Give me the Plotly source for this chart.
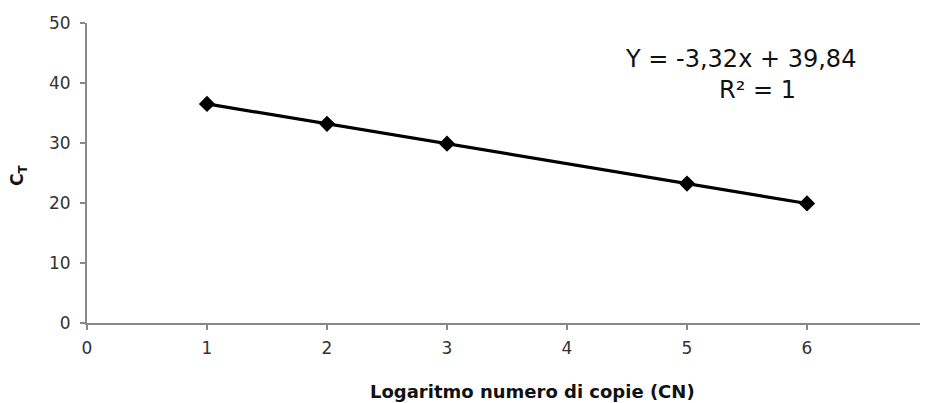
import plotly.graph_objects as go

log_cn = [1, 2, 3, 5, 6]
ct_values = [36.52, 33.2, 29.88, 23.24, 19.92]
x_ticks = [0, 1, 2, 3, 4, 5, 6, 7]
y_ticks = [0, 10, 20, 30, 40, 50]
equation_text = "Y = -3,32x + 39,84"
r2_text = "R² = 1"
x_title = "Logaritmo numero di copie (CN)"
y_title = "C<sub>T</sub>"

FONT = "DejaVu Sans"
OFF = 8  # default page body margin
W, H = 928 - OFF, 403 - OFF
L, R, T, B = 87 - OFF, 1, 23 - OFF, 80
plot_w = W - L - R
plot_h = H - T - B

fig = go.Figure()
fig.add_trace(go.Scatter(
    x=log_cn, y=ct_values, mode="lines+markers",
    line=dict(color="black", width=3.2),
    marker=dict(symbol="diamond", size=12.5, color="black"),
    showlegend=False, hoverinfo="skip", cliponaxis=False,
))

axis_common = dict(
    showgrid=False, zeroline=False, showline=True, automargin=False,
    linecolor="#898989", linewidth=2,
    ticks="outside", ticklen=5, tickcolor="#898989", tickwidth=2,
    tickfont=dict(family=FONT, size=17, color="#333333"),
    ticklabeloverflow="allow",
)

fig.update_xaxes(
    range=[0, 7], tickvals=x_ticks, ticktext=[str(v) for v in x_ticks],
    ticklabelstandoff=4, **axis_common,
)
fig.update_yaxes(
    range=[0, 50], tickvals=y_ticks, ticktext=[str(v) for v in y_ticks],
    ticklabelstandoff=6, **axis_common,
)

def px_x(page_x):
    return (page_x - OFF - L) / plot_w

def px_y(page_y):
    return (H - B - (page_y - OFF)) / plot_h

annots = [
    dict(x=px_x(740), y=px_y(59), text=equation_text, size=24, angle=0),
    dict(x=px_x(757), y=px_y(90), text=r2_text, size=24, angle=0),
    dict(x=px_x(532), y=px_y(391), text="<b>" + x_title + "</b>", size=18, angle=0),
    dict(x=px_x(18), y=px_y(176), text="<b>" + y_title + "</b>", size=17, angle=-90),
]
for a in annots:
    fig.add_annotation(
        x=a["x"], y=a["y"], xref="paper", yref="paper", text=a["text"],
        showarrow=False, textangle=a["angle"],
        font=dict(family=FONT, size=a["size"], color="#111111"),
        xanchor="center", yanchor="middle",
    )

fig.update_layout(
    width=W, height=H,
    margin=dict(l=L, r=R, t=T, b=B, autoexpand=False),
    paper_bgcolor="white", plot_bgcolor="white",
    font=dict(family=FONT),
)

fig.write_html("out.html")
